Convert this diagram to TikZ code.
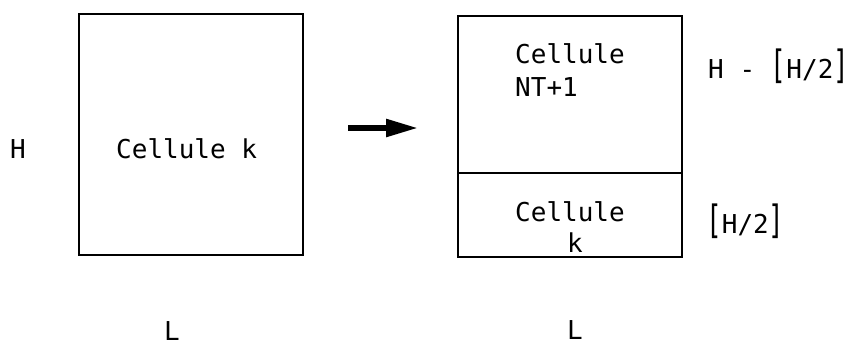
\documentclass[tikz,border=0pt]{standalone}
\usepackage{fontspec}
\setmonofont{DejaVu Sans Mono}
\usetikzlibrary{arrows.meta}
\newcommand{\bk}[1]{\scalebox{1}[1.5]{#1}}
\begin{document}
\begin{tikzpicture}[x=1pt,y=-1pt,
  txt/.style={inner sep=0pt,font=\ttfamily\fontsize{26}{30}\selectfont},
  cell/.style={draw,line width=2.4pt,inner sep=0pt},
  bigarrow/.style={line width=5.5pt,-{Triangle[length=32pt,width=17pt]}}]
\useasboundingbox[fill=white] (0,0) rectangle (849,346);
% left cell
\node[cell,minimum width=224pt,minimum height=241pt] (left) at (191,134.5) {};
\node[txt,anchor=base west] (lt) at (116,158) {Cellule k};
\node[txt,anchor=base] (lh) at (18,158) {H};
\node[txt,anchor=base] (ll) at (172,340) {L};
% arrow
\coordinate (a1) at (348,128);
\coordinate (a2) at (418,128);
\draw[bigarrow] (a1) -- (a2);
% right cells
\node[cell,minimum width=224pt,minimum height=157pt] (top) at (570,94.5) {};
\node[cell,minimum width=224pt,minimum height=84pt] (bot) at (570,215) {};
\node[txt,anchor=base west] (t1) at (515,63) {Cellule};
\node[txt,anchor=base west] (t2) at (515,96) {NT+1};
\node[txt,anchor=base west] (b1) at (515,221) {Cellule};
\node[txt,anchor=base] (b2) at (575,252) {k};
\node[txt,anchor=base west] (rh1) at (708,78) {H - \bk{[}H/2\bk{]}};
\node[txt,anchor=base west] (rh2) at (706,233) {\bk{[}H/2\bk{]}};
\node[txt,anchor=base] (rl) at (575,339) {L};
\end{tikzpicture}
\end{document}
